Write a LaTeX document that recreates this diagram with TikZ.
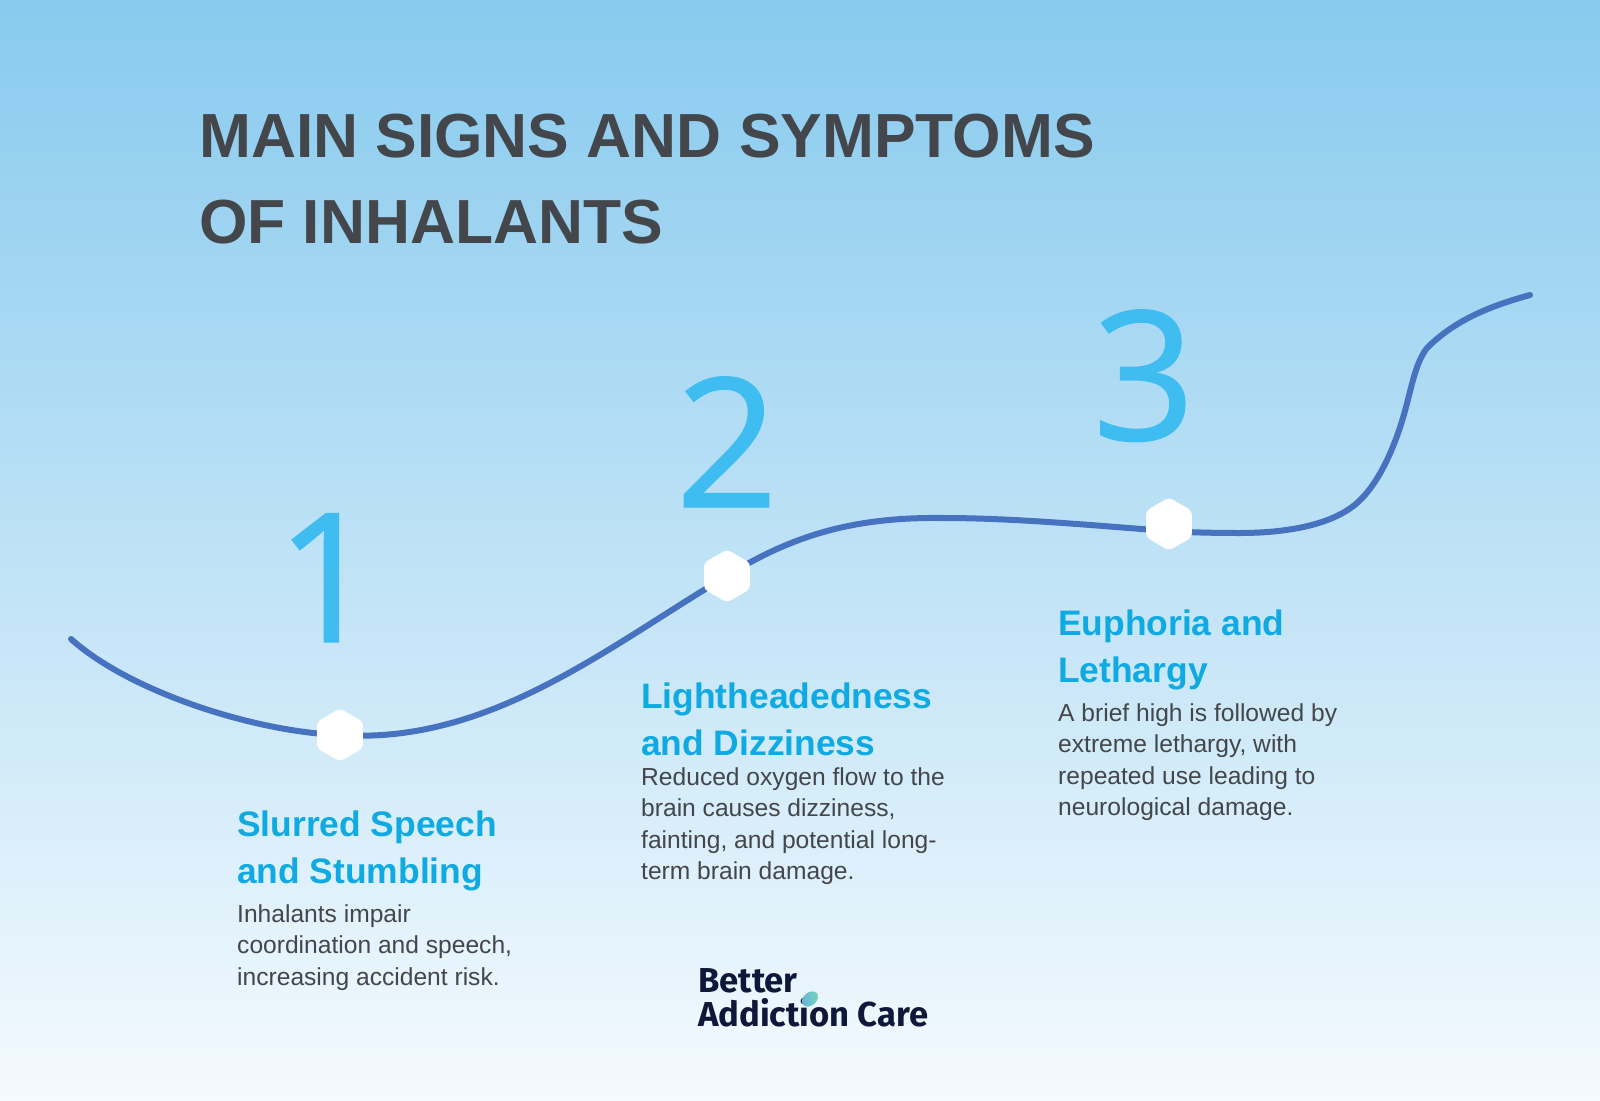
\documentclass[tikz,border=0pt]{standalone}
\usepackage{fontspec}
\setmainfont{Liberation Sans}
\newfontfamily\logofont{Fira Sans}
\newfontfamily\numfont[FakeBold=0.7]{Open Sans}
\usetikzlibrary{shapes.geometric}
\definecolor{skytop}{RGB}{136,202,238}
\definecolor{skymid}{RGB}{190,225,246}
\definecolor{skybot}{RGB}{244,250,254}
\definecolor{wave}{RGB}{70,114,192}
\definecolor{numcol}{RGB}{63,189,241}
\definecolor{headcol}{RGB}{14,170,225}
\definecolor{inkcol}{RGB}{67,70,74}
\definecolor{logocol}{RGB}{14,24,56}
\definecolor{leafa}{RGB}{120,214,186}
\definecolor{leafb}{RGB}{100,180,220}
\tikzset{
  titletext/.style={anchor=north west, inner sep=0pt, align=left, text=inkcol, font=\fontsize{62.3}{85.5}\selectfont\bfseries},
  numtext/.style={anchor=base, inner sep=0pt, text=numcol, font=\numfont\fontsize{180}{180}\selectfont},
  headtext/.style={anchor=north west, inner sep=0pt, align=left, text=headcol, font=\fontsize{35.4}{47}\selectfont\bfseries},
  bodytext/.style={anchor=north west, inner sep=0pt, align=left, text=inkcol, font=\fontsize{24.6}{31.6}\selectfont},
  stopdot/.style={regular polygon, regular polygon sides=6, regular polygon rotate=30, minimum size=53pt, inner sep=0pt, outer sep=0pt, fill=white, rounded corners=4pt},
  logotext/.style={anchor=north west, inner sep=0pt, align=left, text=logocol, font=\logofont\fontsize{34.6}{34}\selectfont\bfseries}
}
\begin{document}
\begin{tikzpicture}[x=1pt, y=-1pt]
\useasboundingbox (0,0) rectangle (1600,1100);
\shade[top color=skytop, middle color=skymid, bottom color=skybot] (0,0) rectangle (1600,1100);

\coordinate (wavestart) at (71,639);
\coordinate (stopa) at (340,735);
\coordinate (stopb) at (727,576);
\coordinate (wavepeak) at (944,518);
\coordinate (wavec) at (1169,531);
\coordinate (waveend) at (1530,295);
\draw[wave, line width=6pt, line cap=round]
  (wavestart) .. controls (130,692) and (255,732) .. (stopa)
  .. controls (490,745) and (610,645) .. (stopb)
  .. controls (800,530) and (865,517) .. (wavepeak)
  .. controls (1020,518) and (1110,527) .. (wavec)
  .. controls (1190,532.5) and (1215,533) .. (1240,533)
  .. controls (1280,533) and (1325,527) .. (1352,507)
  .. controls (1378,488) and (1396,445) .. (1406,407)
  .. controls (1412,385) and (1416,362) .. (1427,348)
  .. controls (1455,320) and (1490,306) .. (waveend);

\node[stopdot] (dota) at (stopa) {};
\node[stopdot] (dotb) at (stopb) {};
\node[stopdot] (dotc) at (1169,524) {};

\node[titletext] (title) at (199,114) {MAIN SIGNS AND SYMPTOMS\\OF INHALANTS};

\node[numtext] (numa) at (327,642) {1};
\node[numtext] (numb) at (727,507) {2};
\node[numtext] (numc) at (1144,440) {3};

\node[headtext] (heada) at (237,811) {Slurred Speech\\and Stumbling};
\node[bodytext] (bodya) at (237,904) {Inhalants impair\\coordination and speech,\\increasing accident risk.};

\node[headtext] (headb) at (641,683) {Lightheadedness\\and Dizziness};
\node[bodytext] (bodyb) at (641,767) {Reduced oxygen flow to the\\brain causes dizziness,\\fainting, and potential long-\\term brain damage.};

\node[headtext] (headc) at (1058,610) {Euphoria and\\Lethargy};
\node[bodytext] (bodyc) at (1058,703) {A brief high is followed by\\extreme lethargy, with\\repeated use leading to\\neurological damage.};

\node[logotext] (logo) at (698,968) {Better\\Addiction Care};
\shade[left color=leafb, right color=leafa, rotate around={40:(810,999)}] (810,999) ellipse (9pt and 6.5pt);
\end{tikzpicture}
\end{document}
